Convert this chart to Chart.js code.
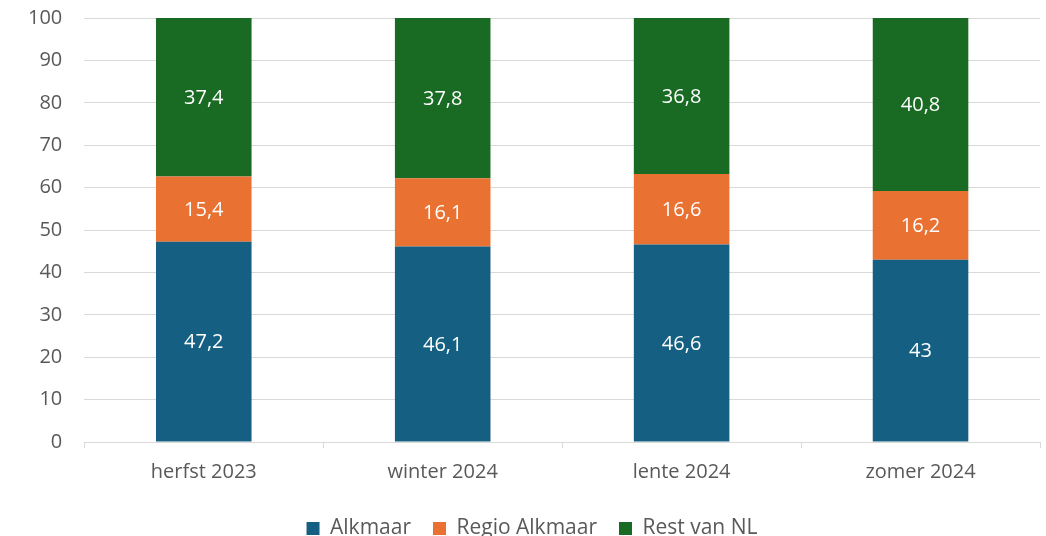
<!DOCTYPE html>
<html>
<head>
<meta charset="utf-8">
<script src="https://cdn.jsdelivr.net/npm/chart.js@4.4.1/dist/chart.umd.min.js"></script>
<style>
  html, body { margin: 0; padding: 0; background: #fff; }
  #wrap { width: 1046px; height: 536px; }
</style>
</head>
<body>
<div id="wrap"><canvas id="chart" width="1046" height="536"></canvas></div>
<script>
const categories = ['herfst 2023', 'winter 2024', 'lente 2024', 'zomer 2024'];
const alkmaar = [47.2, 46.1, 46.6, 43];
const regioAlkmaar = [15.4, 16.1, 16.6, 16.2];
const restVanNL = [37.4, 37.8, 36.8, 40.8];
const yTicks = { min: 0, max: 100, step: 10 };

const FONT = "'Open Sans', 'Noto Sans', sans-serif";
const textColor = '#595959';
const gridColor = '#d9d9d9';

// draws the value in the middle of each segment (comma as decimal sign)
const segmentLabels = {
  id: 'segmentLabels',
  afterDatasetsDraw(chart) {
    const c = chart.ctx;
    c.save();
    c.fillStyle = '#ffffff';
    c.font = '20px ' + FONT;
    c.textAlign = 'center';
    c.textBaseline = 'middle';
    chart.data.datasets.forEach((ds, i) => {
      const meta = chart.getDatasetMeta(i);
      meta.data.forEach((bar, j) => {
        const p = bar.getProps(['x', 'y', 'base'], true);
        const txt = String(ds.data[j]).replace('.', ',');
        c.fillText(txt, p.x, (p.y + p.base) / 2 + 1);
      });
    });
    c.restore();
  }
};

const ctx = document.getElementById('chart').getContext('2d');
new Chart(ctx, {
  type: 'bar',
  data: {
    labels: categories,
    datasets: [
      { label: 'Alkmaar', data: alkmaar, backgroundColor: '#156082' },
      { label: 'Regio Alkmaar', data: regioAlkmaar, backgroundColor: '#e97132' },
      { label: 'Rest van NL', data: restVanNL, backgroundColor: '#196b24' }
    ]
  },
  options: {
    responsive: false,
    animation: false,
    layout: { padding: { top: 18, right: 6, left: 24, bottom: -13 } },
    datasets: { bar: { categoryPercentage: 0.4, barPercentage: 1.0 } },
    plugins: {
      tooltip: { enabled: false },
      legend: {
        position: 'bottom',
        labels: {
          color: textColor,
          font: { size: 21, family: FONT },
          boxWidth: 13,
          boxHeight: 13,
          padding: 22
        }
      }
    },
    scales: {
      x: {
        stacked: true,
        offset: true,
        border: { color: gridColor },
        grid: { color: gridColor, drawOnChartArea: false, tickLength: 6, offset: true },
        ticks: { color: textColor, font: { size: 20, family: FONT }, padding: 12 }
      },
      y: {
        stacked: true,
        min: yTicks.min,
        max: yTicks.max,
        border: { display: false },
        // invisible tick marks give the gap between labels and plot
        grid: { color: gridColor, tickColor: 'rgba(0,0,0,0)', tickLength: 18 },
        ticks: { stepSize: yTicks.step, color: textColor, font: { size: 20, family: FONT }, padding: 4 }
      }
    }
  },
  plugins: [segmentLabels]
});
</script>
</body>
</html>
